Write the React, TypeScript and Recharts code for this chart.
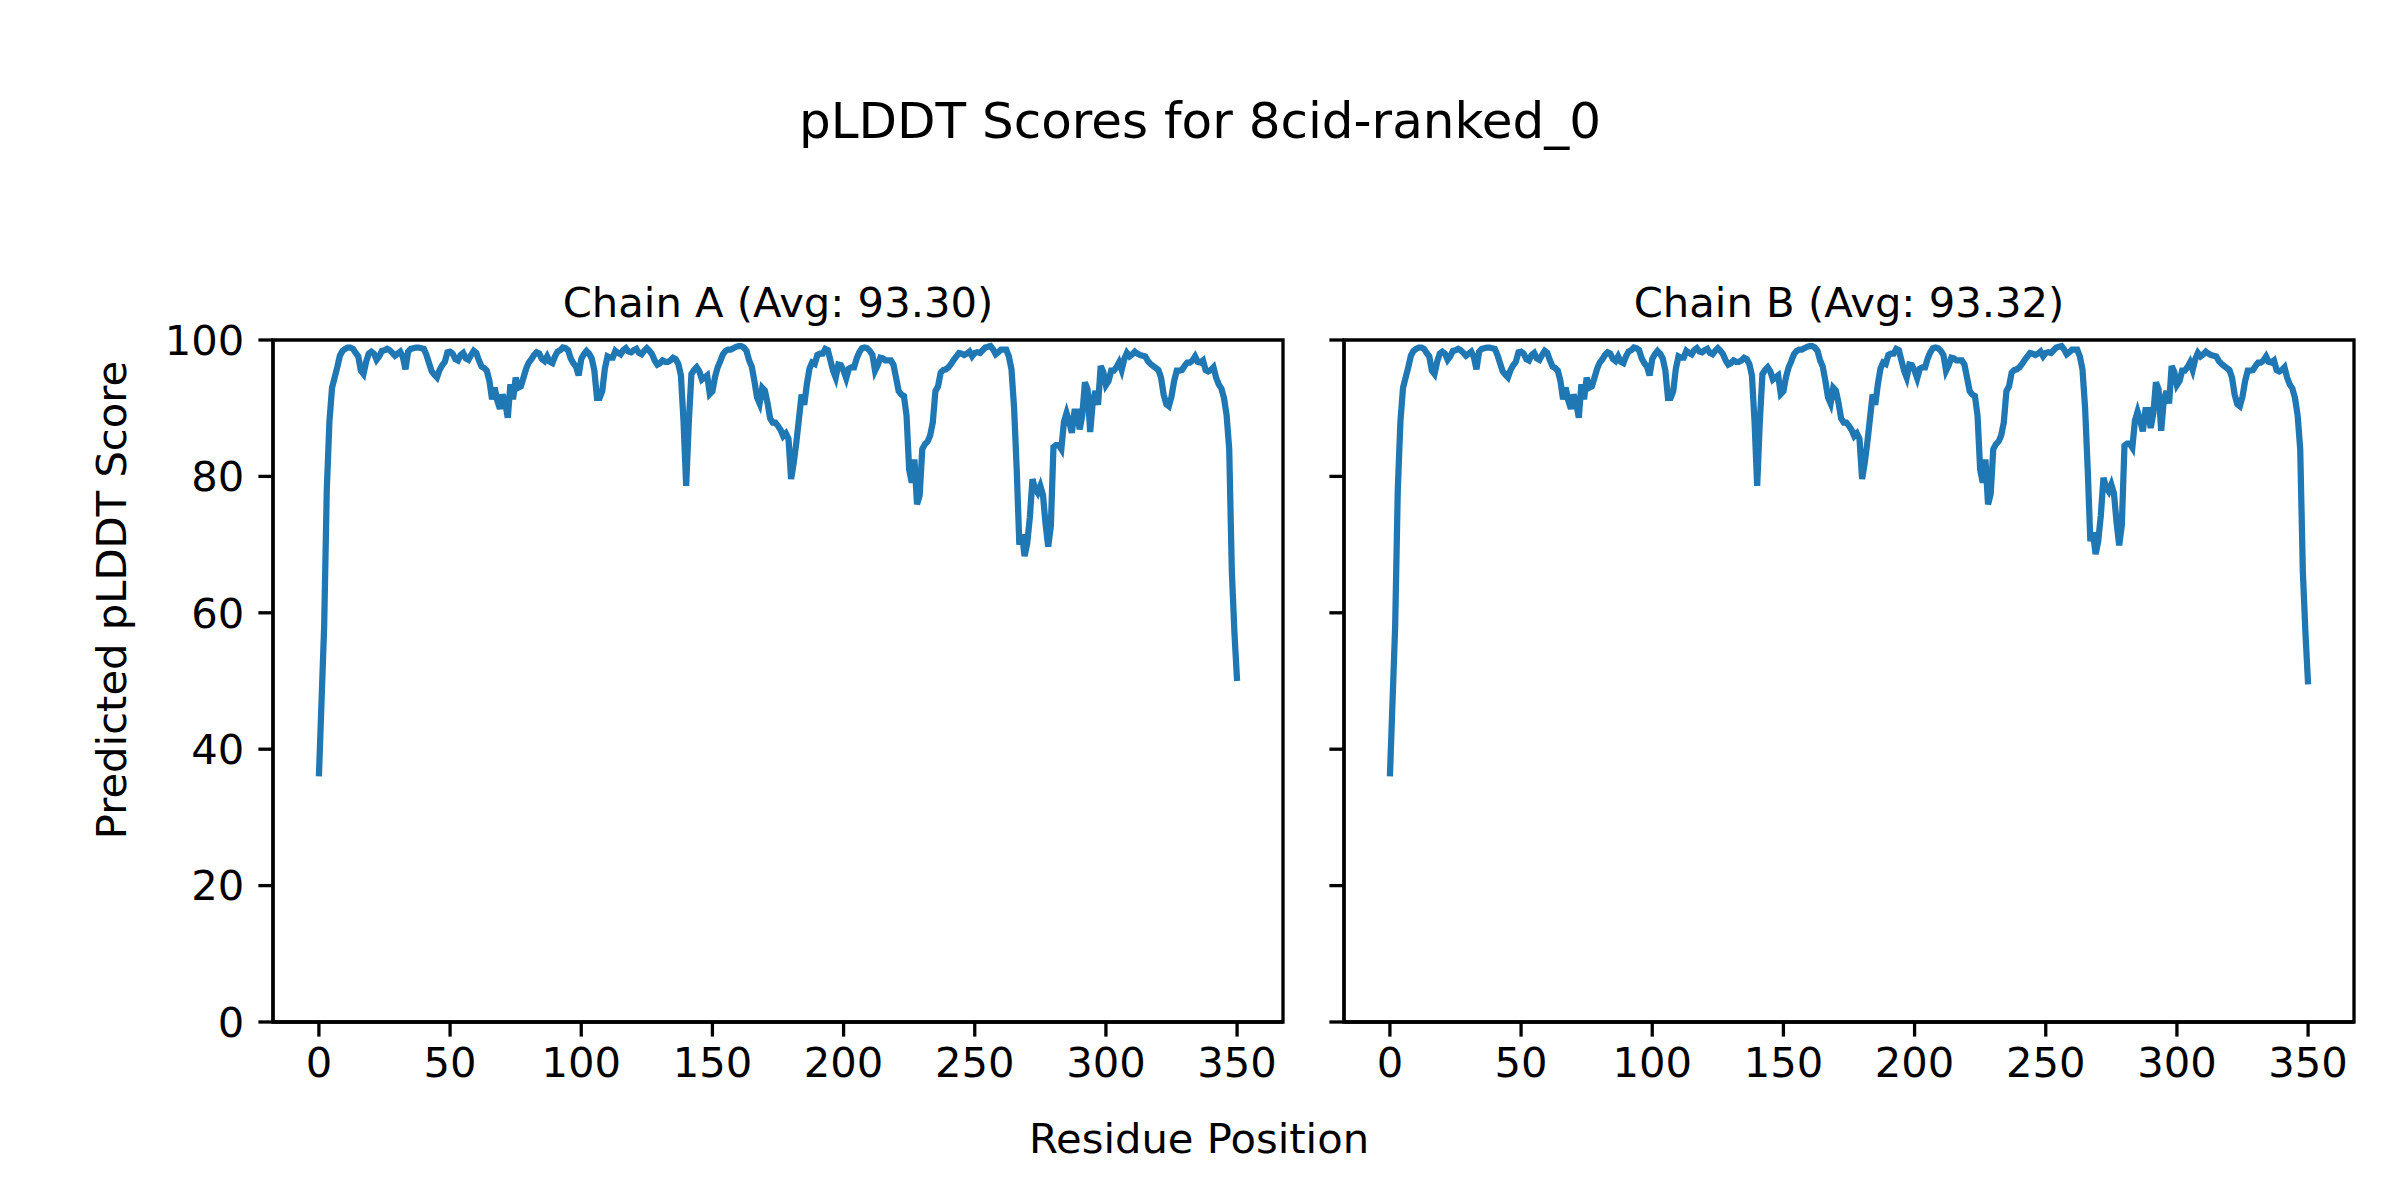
import { LineChart, Line, XAxis, YAxis, ReferenceArea } from 'recharts';

// pLDDT per residue (residue index 0..350)
const chainAScores = [
  36, 47, 58, 78, 88, 93, 94.5, 96, 97.7, 98.4,
  98.7, 98.9, 98.9, 98.7, 98.1, 97.6, 95.5, 95, 96.8, 98,
  98.3, 98, 97.1, 97.6, 98.4, 98.5, 98.7, 98.5, 98.1, 97.7,
  98, 98.3, 97.5, 95.7, 98.3, 98.7, 98.8, 98.9, 98.9, 98.8,
  98.7, 97.8, 96.6, 95.4, 94.9, 94.5, 95.6, 96.3, 96.8, 98.2,
  98.3, 98, 97.2, 97, 97.8, 98.1, 97.3, 97.1, 97.8, 98.4,
  98.1, 97, 96.1, 95.9, 95.5, 94, 91.3, 93, 91.1, 89.9,
  92, 90.8, 88.6, 93.5, 91.3, 94.5, 93, 93.2, 94.5, 95.8,
  96.7, 97.2, 97.8, 98.2, 98, 97.2, 96.9, 97.6, 96.8, 96.6,
  97.6, 98.3, 98.5, 98.9, 98.8, 98.5, 97.3, 96.6, 96.1, 94.8,
  97.2, 97.9, 98.4, 98, 97.3, 95.5, 91.5, 91.5, 92.5, 95.8,
  97.6, 97.4, 97.4, 98.4, 98.1, 97.9, 98.5, 98.8, 98.3, 98.2,
  98.5, 98.7, 98.1, 97.9, 98.4, 98.8, 98.4, 97.9, 97, 96.4,
  96.6, 97, 96.8, 96.8, 97, 97.4, 97.2, 96.5, 94.8, 88,
  78.6, 88, 95, 95.6, 96, 95.4, 94.2, 94.5, 94.8, 92.1,
  92.5, 94.6, 96, 96.9, 97.9, 98.4, 98.6, 98.6, 98.8, 99,
  99.1, 99.1, 98.9, 98.4, 97, 96.1, 94, 91.6, 90.7, 93,
  92.6, 90.8, 88.5, 87.9, 87.9, 87.4, 86.8, 85.9, 86.3, 85.5,
  79.6, 82, 85, 88.5, 92, 90.5, 93.5, 95.8, 96.7, 96.5,
  97.8, 98, 98, 98.7, 98.5, 97, 95.5, 94.5, 96.4, 96.3,
  95.5, 94.4, 95.8, 96, 96, 97.3, 98.2, 98.8, 98.9, 98.8,
  98.4, 97.8, 95.5, 96.3, 97.4, 97.3, 97, 97, 97, 96.4,
  94.5, 92.5, 92, 91.8, 88.9, 81, 79.1, 82.5, 75.9, 77.2,
  84, 84.7, 85.1, 86, 87.9, 92.5, 93.2, 95.2, 95.6, 95.7,
  96, 96.5, 97.1, 97.6, 98.1, 98, 97.8, 98, 98.3, 97.6,
  98.1, 98.2, 98.1, 98.5, 98.9, 99, 99.1, 98.6, 97.9, 98.2,
  98.6, 98.6, 98.6, 97.6, 95.7, 90, 81, 70, 71.5, 68.3,
  70.2, 74, 79.6, 78.2, 77.6, 78.6, 77.3, 73, 69.7, 72.7,
  84.3, 84.6, 84.6, 84, 88, 89.3, 88, 86.4, 89.5, 89.5,
  86.9, 89, 93.8, 92.8, 86.5, 91, 92.5, 90.5, 96.2, 95.3,
  93.4, 94, 95.5, 95.5, 96, 96.7, 95.6, 97.2, 98.1, 97.6,
  97.9, 98.3, 98, 97.8, 97.7, 97.6, 96.9, 96.5, 96.2, 95.9,
  95.6, 94.5, 92, 90.6, 90.3, 91.7, 94, 95.5, 95.5, 95.6,
  96.2, 96.7, 96.7, 97, 97.6, 96.8, 96.7, 97, 95.6, 95.4,
  95.6, 96, 94.5, 93.5, 92.9, 91.5, 89, 84, 66, 57,
  50,
];

const chainBScores = [
  36, 47, 58, 78, 88, 93, 94.5, 96, 97.7, 98.4,
  98.7, 98.9, 98.9, 98.7, 98.1, 97.6, 95.5, 95, 96.8, 98,
  98.3, 98, 97.1, 97.6, 98.4, 98.5, 98.7, 98.5, 98.1, 97.7,
  98, 98.3, 97.5, 95.7, 98.3, 98.7, 98.8, 98.9, 98.9, 98.8,
  98.7, 97.8, 96.6, 95.4, 94.9, 94.5, 95.6, 96.3, 96.8, 98.2,
  98.3, 98, 97.2, 97, 97.8, 98.1, 97.3, 97.1, 97.8, 98.4,
  98.1, 97, 96.1, 95.9, 95.5, 94, 91.3, 93, 91.1, 89.9,
  92, 90.8, 88.6, 93.5, 91.3, 94.5, 93, 93.2, 94.5, 95.8,
  96.7, 97.2, 97.8, 98.2, 98, 97.2, 96.9, 97.6, 96.8, 96.6,
  97.6, 98.3, 98.5, 98.9, 98.8, 98.5, 97.3, 96.6, 96.1, 94.8,
  97.2, 97.9, 98.4, 98, 97.3, 95.5, 91.5, 91.5, 92.5, 95.8,
  97.6, 97.4, 97.4, 98.4, 98.1, 97.9, 98.5, 98.8, 98.3, 98.2,
  98.5, 98.7, 98.1, 97.9, 98.4, 98.8, 98.4, 97.9, 97, 96.4,
  96.6, 97, 96.8, 96.8, 97, 97.4, 97.2, 96.5, 94.8, 88,
  78.6, 88, 95, 95.6, 96, 95.4, 94.2, 94.5, 94.8, 92.1,
  92.5, 94.6, 96, 96.9, 97.9, 98.4, 98.6, 98.6, 98.8, 99,
  99.1, 99.1, 98.9, 98.4, 97, 96.1, 94, 91.6, 90.7, 93,
  92.6, 90.8, 88.5, 87.9, 87.9, 87.4, 86.8, 85.9, 86.3, 85.5,
  79.6, 82, 85, 88.5, 92, 90.5, 93.5, 95.8, 96.7, 96.5,
  97.8, 98, 98, 98.7, 98.5, 97, 95.5, 94.5, 96.4, 96.3,
  95.5, 94.4, 95.8, 96, 96, 97.3, 98.2, 98.8, 98.9, 98.8,
  98.4, 97.8, 95.5, 96.3, 97.4, 97.3, 97, 97, 97, 96.4,
  94.5, 92.5, 92, 91.8, 88.9, 81, 79.1, 82.5, 75.9, 77.4,
  84, 84.7, 85.1, 86, 87.9, 92.5, 93.2, 95.2, 95.6, 95.7,
  96, 96.5, 97.1, 97.6, 98.1, 98, 97.8, 98, 98.3, 97.6,
  98.1, 98.2, 98.1, 98.5, 98.9, 99, 99.1, 98.6, 97.9, 98.2,
  98.6, 98.6, 98.6, 97.6, 95.7, 90, 81, 70.5, 71.8, 68.6,
  70.5, 74.3, 79.8, 78.4, 77.8, 78.8, 77.5, 73.2, 69.9, 72.9,
  84.5, 84.8, 84.8, 84.2, 88.2, 89.5, 88.2, 86.6, 89.7, 89.7,
  87.1, 89.2, 93.8, 92.8, 86.7, 91.2, 92.5, 90.7, 96.2, 95.3,
  93.4, 94, 95.5, 95.5, 96, 96.7, 95.6, 97.2, 98.1, 97.6,
  97.9, 98.3, 98, 97.8, 97.7, 97.6, 96.9, 96.5, 96.2, 95.9,
  95.6, 94.5, 92, 90.6, 90.3, 91.7, 94, 95.5, 95.5, 95.6,
  96.2, 96.7, 96.7, 97, 97.6, 96.8, 96.7, 97, 95.6, 95.4,
  95.6, 96, 94.5, 93.5, 92.9, 91.5, 89, 84, 66, 57,
  49.5,
];

const chainNames = ['A', 'B'];
const chainAverages = ['93.30', '93.32'];
const xTicks = [0, 50, 100, 150, 200, 250, 300, 350];
const yTicks = [0, 20, 40, 60, 80, 100];
const X_DOMAIN: [number, number] = [-17.5, 367.5];

const FONT = "'DejaVu Sans', 'Liberation Sans', sans-serif";
const LINE_COLOR = '#1f77b4';
const TICK_FONT = 41.7;

const toRows = (scores: number[]) => scores.map((score, i) => ({ pos: i, score }));

interface PanelProps {
  scores: number[];
  left: number;
  width: number;
  margin: { top: number; right: number; bottom: number; left: number };
  yAxisWidth: number;
  showYLabels: boolean;
}

function ChainPanel({ scores, left, width, margin, yAxisWidth, showYLabels }: PanelProps) {
  const axisLine = { stroke: '#000', strokeWidth: 3.3 };
  const tickStyle = { fill: '#000', fontSize: TICK_FONT, fontFamily: FONT };
  return (
    <div style={{ position: 'absolute', left, top: 250 }}>
      <LineChart width={width} height={850} data={toRows(scores)} margin={margin}>
        <XAxis
          type="number"
          dataKey="pos"
          domain={X_DOMAIN}
          ticks={xTicks}
          allowDataOverflow
          height={60}
          tickSize={14.6}
          tickMargin={11}
          axisLine={axisLine}
          tickLine={axisLine}
          tick={tickStyle}
        />
        <YAxis
          type="number"
          domain={[0, 100]}
          ticks={yTicks}
          width={yAxisWidth}
          tickSize={14.6}
          tickMargin={14}
          axisLine={axisLine}
          tickLine={axisLine}
          tick={tickStyle}
          tickFormatter={(v) => (showYLabels ? String(v) : '')}
        />
        <ReferenceArea
          x1={X_DOMAIN[0]}
          x2={X_DOMAIN[1]}
          y1={0}
          y2={100}
          fill="none"
          fillOpacity={0}
          stroke="#000"
          strokeWidth={3.3}
          ifOverflow="visible"
        />
        <Line
          type="linear"
          dataKey="score"
          stroke={LINE_COLOR}
          strokeWidth={6.25}
          dot={false}
          activeDot={false}
          isAnimationActive={false}
        />
      </LineChart>
    </div>
  );
}

const textBase: React.CSSProperties = {
  position: 'absolute',
  fontFamily: FONT,
  color: '#000',
  lineHeight: 1,
  whiteSpace: 'nowrap',
  transform: 'translate(-50%, -50%)',
};

export default function App() {
  const panelCenters = [778, 1849];
  return (
    <div style={{ position: 'absolute', left: 0, top: 0, width: 2400, height: 1200, background: '#fff' }}>
      <div style={{ ...textBase, left: 1200, top: 121, fontSize: 50 }}>pLDDT Scores for 8cid-ranked_0</div>

      {chainNames.map((name, i) => (
        <div key={name} style={{ ...textBase, left: panelCenters[i], top: 303, fontSize: TICK_FONT }}>
          {`Chain ${name} (Avg: ${chainAverages[i]})`}
        </div>
      ))}

      <ChainPanel
        scores={chainAScores}
        left={0}
        width={1300}
        margin={{ top: 90, right: 17, bottom: 18, left: 173 }}
        yAxisWidth={100}
        showYLabels
      />
      <ChainPanel
        scores={chainBScores}
        left={1300}
        width={1100}
        margin={{ top: 90, right: 46, bottom: 18, left: 4 }}
        yAxisWidth={40}
        showYLabels={false}
      />

      <div style={{ ...textBase, left: 1199, top: 1139, fontSize: TICK_FONT }}>Residue Position</div>
      <div
        style={{
          ...textBase,
          left: 112,
          top: 600,
          fontSize: TICK_FONT,
          transform: 'translate(-50%, -50%) rotate(-90deg)',
        }}
      >
        Predicted pLDDT Score
      </div>
    </div>
  );
}
